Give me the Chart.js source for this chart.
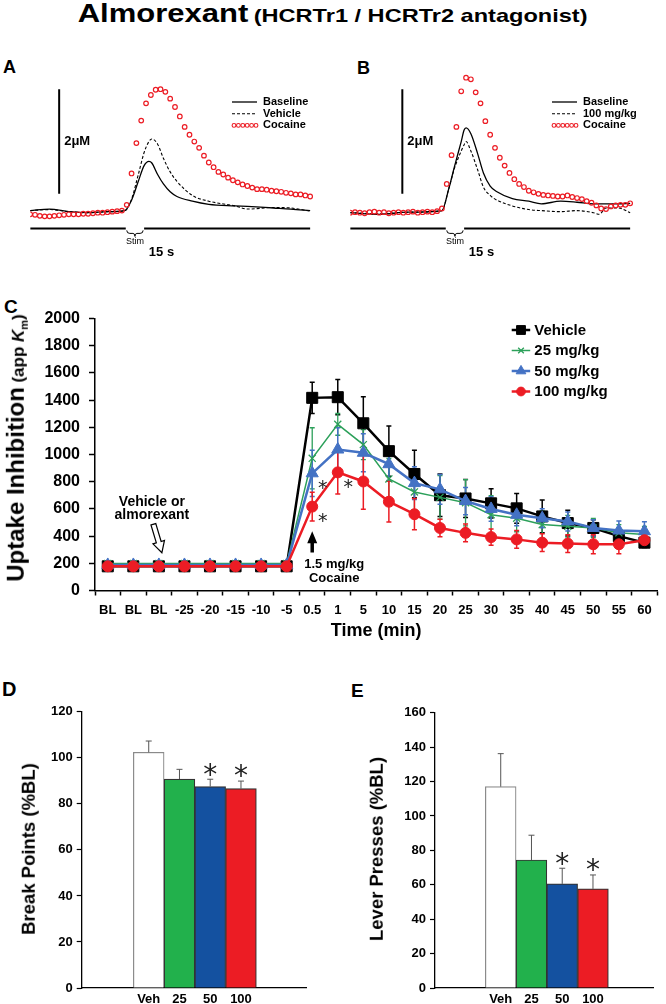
<!DOCTYPE html>
<html>
<head>
<meta charset="utf-8">
<script src="https://cdn.jsdelivr.net/npm/chart.js@4.4.1/dist/chart.umd.min.js"></script>
<style>
  body { margin: 0; background: #fff; }
  #page { position: relative; width: 666px; height: 1004px; overflow: hidden;
          font-family: 'Liberation Sans', Arial, sans-serif; font-weight: bold; color: #000; }
  canvas { position: absolute; }
  .lbl { position: absolute; white-space: nowrap; line-height: 1; }
  .rot { position: absolute; white-space: nowrap; line-height: 1;
         transform: translate(-50%, -50%) rotate(-90deg); }
</style>
</head>
<body>
<div id="page">
  <div class="lbl" style="left:0;width:666px;top:0.5px;text-align:center">
    <span style="display:inline-block;transform:scaleX(1.24)"><span style="font-size:25px">Almorexant</span> <span style="font-size:19px">(HCRTr1 / HCRTr2 antagonist)</span></span>
  </div>

  <div class="lbl" style="left:3px;top:58px;font-size:18px">A</div>
  <div class="lbl" style="left:357px;top:58.5px;font-size:18px">B</div>
  <div class="lbl" style="left:4px;top:296.5px;font-size:19px">C</div>
  <div class="lbl" style="left:2px;top:679px;font-size:20px">D</div>
  <div class="lbl" style="left:351px;top:680.5px;font-size:19px">E</div>

  <canvas id="chartA" width="300" height="204" style="left:25px;top:61px"></canvas>
  <canvas id="chartB" width="300" height="204" style="left:345px;top:61px"></canvas>
  <canvas id="chartC" width="666" height="345" style="left:0;top:300px"></canvas>
  <canvas id="chartD" width="330" height="304" style="left:0;top:700px"></canvas>
  <canvas id="chartE" width="336" height="304" style="left:330px;top:700px"></canvas>

  <div class="rot" style="left:17px;top:448px"><span style="font-size:24px">Uptake Inhibition</span> <span style="font-size:17px">(app <i>K</i><sub style="font-size:11px">m</sub>)</span></div>
  <div class="rot" style="left:29px;top:849px;font-size:18.5px">Break Points (%BL)</div>
  <div class="rot" style="left:377px;top:849px;font-size:18.5px">Lever Presses (%BL)</div>
</div>

<script>
// ---- panels A / B : voltammetry traces (uM vs s) ----
const tCoc = [0, 0.5, 1, 1.5, 2, 2.5, 3, 3.5, 4, 4.5, 5, 5.5, 6, 6.5, 7, 7.5, 8, 8.5, 9, 9.5,
  10, 10.5, 11, 11.5, 12, 12.5, 13, 13.5, 14, 14.5, 15, 15.5, 16, 16.5, 17, 17.5, 18, 18.5, 19, 19.5,
  20, 20.5, 21, 21.5, 22, 22.5, 23, 23.5, 24, 24.5, 25, 25.5, 26, 26.5, 27, 27.5, 28, 28.5, 29];

const tLineA = [0, 2, 4, 6, 8, 9.8, 10.5, 11.2, 11.8, 12.3, 12.6, 13.2, 13.8, 14.5, 15.2, 16.8, 18.5, 21.2, 22.5, 25.2, 27, 29];
const baseA = [0.04, 0.07, 0.02, 0, 0.02, 0.04, 0.24, 0.6, 0.9, 0.98, 0.95, 0.73, 0.55, 0.4, 0.31, 0.22, 0.16, 0.13, 0.12, 0.09, 0.07, 0.04];
const vehA = [0.04, 0.06, 0.02, 0, 0.02, 0.04, 0.26, 0.73, 1.15, 1.36, 1.41, 1.31, 1.04, 0.78, 0.6, 0.33, 0.22, 0.13, 0.07, 0.1, 0.09, 0.03];
const cocA = [-0.03, -0.04, -0.06, -0.07, -0.07, -0.06, -0.05, -0.04, -0.03, -0.03, -0.03, -0.02, -0.02, -0.01, 0, 0, 0.01, 0.02, 0.03, 0.04,
  0.15, 0.75, 1.33, 1.76, 2.09, 2.25, 2.35, 2.36, 2.31, 2.18, 2.02, 1.84, 1.64, 1.49, 1.36, 1.24, 1.09, 0.96, 0.87, 0.78,
  0.73, 0.67, 0.62, 0.58, 0.54, 0.51, 0.48, 0.45, 0.45, 0.44, 0.42, 0.41, 0.4, 0.38, 0.37, 0.35, 0.35, 0.33, 0.31];

const tLineB = [0, 3, 6, 9.5, 10.2, 10.8, 11.5, 11.8, 12.0, 12.5, 13.2, 13.8, 14.5, 15.2, 16.8, 18.5, 19.8, 21.8, 23.5, 25.2, 25.8, 26.5, 27.8, 29];
const baseB = [0, -0.03, 0.01, 0.04, 0.45, 0.88, 1.36, 1.58, 1.62, 1.51, 1.13, 0.76, 0.51, 0.4, 0.27, 0.22, 0.17, 0.22, 0.2, 0.17, 0.17, 0.17, 0.17, 0.18];
const doseB = [0, -0.02, 0.01, 0.04, 0.45, 0.85, 1.18, 1.3, 1.36, 1.18, 0.82, 0.49, 0.33, 0.24, 0.13, 0.06, 0.04, 0.02, 0.04, 0, -0.03, 0.09, 0.09, 0];
const cocB = [0, 0.01, 0, -0.01, 0.01, 0.02, 0, 0.01, -0.01, 0, 0.01, 0, 0.01, 0.02, 0, 0.01, 0.02, 0.01, 0.03, 0.08,
  0.55, 1.1, 1.64, 2.32, 2.58, 2.55, 2.3, 2.09, 1.75, 1.49, 1.24, 1.05, 0.9, 0.76, 0.64, 0.55, 0.49, 0.42, 0.39, 0.36,
  0.34, 0.33, 0.32, 0.31, 0.31, 0.33, 0.3, 0.28, 0.26, 0.22, 0.19, 0.14, 0.08, 0.07, 0.12, 0.14, 0.15, 0.15, 0.18];

const stim = [9.9, 11.8];     // stimulation window (s)
const scaleBarUM = 2;         // scale bar height (uM)

// ---- panel C : uptake inhibition time course ----
const timeLabels = ['BL', 'BL', 'BL', '-25', '-20', '-15', '-10', '-5', '0.5', '1', '5', '10', '15', '20', '25', '30', '35', '40', '45', '50', '55', '60'];
const vehicle = [178, 178, 178, 178, 178, 178, 178, 178, 1417, 1422, 1230, 1025, 857, 701, 677, 641, 604, 545, 496, 460, 400, 352];
const mg25 = [198, 198, 198, 198, 198, 198, 198, 198, 972, 1222, 1073, 821, 725, 685, 646, 557, 532, 485, 472, 460, 424, 412];
const mg50 = [188, 188, 188, 188, 188, 188, 188, 188, 862, 1037, 1013, 929, 790, 744, 658, 600, 557, 532, 508, 460, 441, 436];
const mg100 = [178, 178, 178, 178, 178, 178, 178, 178, 617, 869, 802, 653, 561, 460, 424, 393, 376, 352, 345, 340, 340, 370];
const errVeh = [12, 12, 12, 12, 12, 12, 12, 12, 115, 130, 195, 185, 175, 156, 140, 108, 109, 120, 95, 60, 45, 35];
const err25 = [10, 10, 10, 10, 10, 10, 10, 10, 225, 80, 110, 150, 130, 160, 170, 140, 100, 100, 80, 70, 60, 60];
const err50 = [10, 10, 10, 10, 10, 10, 10, 10, 170, 160, 140, 120, 120, 110, 100, 90, 80, 70, 70, 60, 70, 70];
const err100 = [10, 10, 10, 10, 10, 10, 10, 10, 105, 160, 205, 150, 115, 65, 65, 60, 65, 65, 65, 70, 70, 35];

// ---- panels D / E : self-administration ----
const groups = ['Veh', '25', '50', '100'];
const breakPts = [102.4, 90.8, 87.5, 86.6];
const breakErr = [4.9, 4.2, 3.2, 3.3];
const leverPr = [117.0, 74.4, 60.5, 57.6];
const leverErr = [19.2, 14.4, 9.1, 8.1];
const sigIdx = [2, 3];

const FONT = "'Liberation Sans', Arial, sans-serif";
const RED = '#ec1c24', GREEN = '#2ca05a', BLUE = '#4472c4';

Chart.defaults.font.family = FONT;
Chart.defaults.color = '#000';
Chart.defaults.animation = false;
Chart.defaults.responsive = false;
Chart.defaults.events = [];
Chart.defaults.plugins.legend.display = false;
Chart.defaults.plugins.tooltip.enabled = false;

const valOf = d => (d !== null && typeof d === 'object') ? d.y : d;

// error bars: 'both' drawn under the markers, 'up' drawn over the bars
function drawErrors(chart, mode) {
  const { ctx } = chart, ys = chart.scales.y;
  chart.data.datasets.forEach((ds, di) => {
    if (!ds.errors || (ds.errorMode || 'both') !== mode) return;
    const meta = chart.getDatasetMeta(di);
    ctx.save();
    ctx.lineWidth = ds.errorWidth || 1;
    meta.data.forEach((el, i) => {
      const v = valOf(ds.data[i]), e = ds.errors[i];
      ctx.strokeStyle = ds.errorColor || ds.borderColor;
      const top = ys.getPixelForValue(v + e);
      const bot = mode === 'up' ? ys.getPixelForValue(v) : ys.getPixelForValue(v - e);
      const cw = ds.capWidth || 3;
      ctx.beginPath();
      ctx.moveTo(el.x, bot); ctx.lineTo(el.x, top);
      ctx.moveTo(el.x - cw, top); ctx.lineTo(el.x + cw, top);
      if (mode === 'both') { ctx.moveTo(el.x - cw, bot); ctx.lineTo(el.x + cw, bot); }
      ctx.stroke();
    });
    ctx.restore();
  });
}

const errorBars = {
  id: 'errorBars',
  beforeDatasetsDraw(chart) { drawErrors(chart, 'both'); },
  afterDatasetsDraw(chart) { drawErrors(chart, 'up'); }
};

// significance asterisks
const stars = {
  id: 'stars',
  afterDatasetsDraw(chart) {
    const { ctx } = chart, ys = chart.scales.y;
    chart.data.datasets.forEach((ds, di) => {
      if (!ds.stars) return;
      const meta = chart.getDatasetMeta(di);
      const fs = ds.starSize || 20;
      ctx.save();
      ctx.font = fs + "px 'DejaVu Sans', sans-serif";
      ctx.fillStyle = '#222';
      ctx.textAlign = 'center';
      ctx.textBaseline = 'middle';
      ds.stars.forEach(i => {
        const el = meta.data[i];
        let x = el.x, y;
        if (ds.starGap !== undefined) {
          y = ys.getPixelForValue(valOf(ds.data[i]) + ds.errors[i]) - ds.starGap;
        } else {
          x += ds.starDx; y = el.y + ds.starDy;
        }
        ctx.fillText('*', x, y + 0.25 * fs);
      });
      ctx.restore();
    });
  }
};

Chart.register(errorBars, stars);

// ---------- A / B ----------
const traceDecor = {
  id: 'traceDecor',
  afterDraw(chart, args, o) {
    const { ctx } = chart, xs = chart.scales.x, ys = chart.scales.y;
    ctx.save();
    ctx.fillStyle = '#000'; ctx.strokeStyle = '#000';
    // scale bar label
    ctx.font = 'bold 13px ' + FONT;
    ctx.textAlign = 'left'; ctx.textBaseline = 'middle';
    ctx.fillText(scaleBarUM + 'μM', xs.getPixelForValue(o.barT) + 5, ys.getPixelForValue(o.barLow + scaleBarUM / 2));
    // stim brace under the gap of the time bar
    const xa = xs.getPixelForValue(stim[0]) + 1, xb = xs.getPixelForValue(stim[1]) - 1;
    const xm = (xa + xb) / 2, yb = ys.getPixelForValue(o.timeBarY) + 2;
    ctx.lineWidth = 1;
    ctx.beginPath();
    ctx.moveTo(xa, yb);
    ctx.quadraticCurveTo(xa, yb + 3, xa + 3, yb + 3);
    ctx.lineTo(xm - 2, yb + 3);
    ctx.quadraticCurveTo(xm, yb + 3, xm, yb + 6);
    ctx.quadraticCurveTo(xm, yb + 3, xm + 2, yb + 3);
    ctx.lineTo(xb - 3, yb + 3);
    ctx.quadraticCurveTo(xb, yb + 3, xb, yb);
    ctx.stroke();
    ctx.font = '9px ' + FONT;
    ctx.textAlign = 'center';
    ctx.fillText('Stim', xm, yb + 11);
    ctx.font = 'bold 13px ' + FONT;
    ctx.fillText('15 s', xs.getPixelForValue(o.secT), yb + 22);
    // legend
    const L = o.legend;
    chart.data.datasets.slice(0, 3).forEach((ds, i) => {
      const y = L.y + i * L.dy;
      ctx.save();
      if (ds.showLine === false) {
        ctx.strokeStyle = ds.pointBorderColor; ctx.lineWidth = 1.1;
        for (let k = 0; k < 6; k++) {
          ctx.beginPath(); ctx.arc(L.x + 2 + k * 4.4, y, 1.9, 0, Math.PI * 2); ctx.stroke();
        }
      } else {
        ctx.lineWidth = ds.borderWidth;
        ctx.setLineDash(ds.borderDash || []);
        ctx.beginPath(); ctx.moveTo(L.x, y); ctx.lineTo(L.x + L.w, y); ctx.stroke();
      }
      ctx.restore();
      ctx.font = 'bold 11px ' + FONT;
      ctx.textAlign = 'left';
      ctx.fillText(ds.label, L.x + L.w + 6, y);
    });
    ctx.restore();
  }
};

function traceChart(id, tLine, base, drug, coc, drugLabel, barT) {
  const pts = (ts, vs) => ts.map((t, i) => ({ x: t, y: vs[i] }));
  const timeBarY = -0.3, barLow = 0.36;
  return new Chart(document.getElementById(id), {
    type: 'line',
    data: {
      datasets: [
        { label: 'Baseline', data: pts(tLine, base), borderColor: '#000', borderWidth: 1.3,
          pointRadius: 0, cubicInterpolationMode: 'monotone', order: 1 },
        { label: drugLabel, data: pts(tLine, drug), borderColor: '#000', borderWidth: 1.1,
          borderDash: [3, 2], pointRadius: 0, cubicInterpolationMode: 'monotone', order: 2 },
        { label: 'Cocaine', data: pts(tCoc, coc), showLine: false, pointRadius: 2.3,
          pointBorderWidth: 1.2, pointBorderColor: RED, pointBackgroundColor: 'rgba(255,255,255,0)', order: 0 },
        { label: 'bar', data: [{ x: barT, y: barLow }, { x: barT, y: barLow + scaleBarUM }],
          borderColor: '#000', borderWidth: 2, pointRadius: 0, order: 3 },
        { label: 'time', data: [{ x: 0, y: timeBarY }, { x: stim[0], y: timeBarY }, { x: 10.8, y: null },
            { x: stim[1], y: timeBarY }, { x: 29, y: timeBarY }],
          borderColor: '#000', borderWidth: 2, pointRadius: 0, spanGaps: false, order: 4 }
      ]
    },
    options: {
      layout: { padding: 0 },
      scales: {
        x: { type: 'linear', display: false, min: 0, max: 30 },
        y: { display: false, min: -0.9, max: 2.8 }
      },
      plugins: {
        traceDecor: { barT: barT, barLow: barLow, timeBarY: timeBarY, secT: 13.6,
                      legend: { x: 207, y: 41, dy: 11.7, w: 25 } }
      }
    },
    plugins: [traceDecor]
  });
}

traceChart('chartA', tLineA, baseA, vehA, cocA, 'Vehicle', 3.0);
traceChart('chartB', tLineB, baseB, doseB, cocB, '100 mg/kg', 5.4);

// ---------- C ----------
function drawArrow(ctx, x0, y0, x1, y1, shaftW, headL, headW, hollow) {
  const len = Math.hypot(x1 - x0, y1 - y0), ux = (x1 - x0) / len, uy = (y1 - y0) / len;
  const nx = -uy, ny = ux, bx = x1 - ux * headL, by = y1 - uy * headL;
  ctx.beginPath();
  ctx.moveTo(x0 + nx * shaftW / 2, y0 + ny * shaftW / 2);
  ctx.lineTo(bx + nx * shaftW / 2, by + ny * shaftW / 2);
  ctx.lineTo(bx + nx * headW / 2, by + ny * headW / 2);
  ctx.lineTo(x1, y1);
  ctx.lineTo(bx - nx * headW / 2, by - ny * headW / 2);
  ctx.lineTo(bx - nx * shaftW / 2, by - ny * shaftW / 2);
  ctx.lineTo(x0 - nx * shaftW / 2, y0 - ny * shaftW / 2);
  ctx.closePath();
  if (hollow) {
    ctx.fillStyle = '#fff'; ctx.fill();
    ctx.lineWidth = 1.2; ctx.strokeStyle = '#000'; ctx.stroke();
  } else {
    ctx.fillStyle = '#000'; ctx.fill();
  }
}

const cDecor = {
  id: 'cDecor',
  afterDraw(chart) {
    const { ctx } = chart, xs = chart.scales.x, ys = chart.scales.y;
    ctx.save();
    // drug pretreatment arrow + text
    const hx = xs.getPixelForValue(2);
    drawArrow(ctx, hx - 5.5, ys.getPixelForValue(487), hx + 3, ys.getPixelForValue(278), 5, 11, 12, true);
    ctx.fillStyle = '#000';
    ctx.font = 'bold 14px ' + FONT;
    ctx.textAlign = 'center'; ctx.textBaseline = 'middle';
    ctx.fillText('Vehicle or', hx - 7, ys.getPixelForValue(653));
    ctx.fillText('almorexant', hx - 7, ys.getPixelForValue(552));
    // cocaine arrow + text
    const cx = xs.getPixelForValue(8);
    drawArrow(ctx, cx, ys.getPixelForValue(280), cx, ys.getPixelForValue(436), 3.5, 12, 10, false);
    ctx.fillStyle = '#000';
    ctx.font = 'bold 13px ' + FONT;
    ctx.fillText('1.5 mg/kg', cx + 22, ys.getPixelForValue(195));
    ctx.fillText('Cocaine', cx + 22, ys.getPixelForValue(88));
    // legend
    const lx = 511.7, ly = 30, dy = 20.5;
    chart.data.datasets.forEach((ds, i) => {
      const y = ly + i * dy;
      ctx.strokeStyle = ds.borderColor; ctx.fillStyle = ds.pointBackgroundColor || ds.borderColor;
      ctx.lineWidth = ds.borderWidth;
      ctx.beginPath(); ctx.moveTo(lx, y); ctx.lineTo(lx + 18.5, y); ctx.stroke();
      ctx.lineWidth = ds.pointBorderWidth || 1;
      Chart.helpers.drawPoint(ctx, { pointStyle: ds.pointStyle, radius: ds.pointRadius * 0.8,
        borderWidth: ds.pointBorderWidth || 1, rotation: 0 }, lx + 9.3, y);
      ctx.fillStyle = '#000';
      ctx.font = 'bold 15px ' + FONT;
      ctx.textAlign = 'left';
      ctx.fillText(ds.label, lx + 22.6, y + 0.5);
    });
    ctx.restore();
  }
};

new Chart(document.getElementById('chartC'), {
  type: 'line',
  data: {
    labels: timeLabels,
    datasets: [
      { label: 'Vehicle', data: vehicle, errors: errVeh, errorWidth: 1.5, capWidth: 2.5,
        borderColor: '#000', pointBackgroundColor: '#000', pointBorderColor: '#000', borderWidth: 2.5,
        pointStyle: 'rect', pointRadius: 7.8, pointBorderWidth: 1, order: 3 },
      { label: '25 mg/kg', data: mg25, errors: err25, errorWidth: 1.3, capWidth: 2.5,
        borderColor: GREEN, pointBackgroundColor: GREEN, pointBorderColor: GREEN, borderWidth: 1.5,
        pointStyle: 'crossRot', pointRadius: 5, pointBorderWidth: 1.3, order: 2 },
      { label: '50 mg/kg', data: mg50, errors: err50, errorWidth: 1.5, capWidth: 2.5,
        borderColor: BLUE, pointBackgroundColor: BLUE, pointBorderColor: BLUE, borderWidth: 2.5,
        pointStyle: 'triangle', pointRadius: 7, pointBorderWidth: 1, order: 1,
        stars: [8], starDx: 10.5, starDy: 11, starSize: 19 },
      { label: '100 mg/kg', data: mg100, errors: err100, errorWidth: 1.5, capWidth: 2.5,
        borderColor: RED, pointBackgroundColor: RED, pointBorderColor: RED, borderWidth: 2.5,
        pointStyle: 'circle', pointRadius: 5.5, pointBorderWidth: 1, order: 0,
        stars: [8, 9], starDx: 10.5, starDy: 11, starSize: 19 }
    ]
  },
  options: {
    layout: { padding: { left: 40, top: 13.3, right: 3, bottom: 0 } },
    elements: { line: { tension: 0 } },
    scales: {
      x: {
        type: 'category', offset: true,
        grid: { offset: true, drawOnChartArea: false, tickLength: 5, tickColor: '#000', tickWidth: 1.5 },
        border: { color: '#000', width: 1.5 },
        ticks: { autoSkip: false, maxRotation: 0, padding: 7, color: '#000', font: { size: 13, weight: 'bold' } },
        title: { display: true, text: 'Time (min)', color: '#000', font: { size: 18, weight: 'bold' },
                 padding: { top: 0, bottom: 3 } },
        afterFit: s => { s.height = 54.5; }
      },
      y: {
        min: 0, max: 2000,
        ticks: { stepSize: 200, padding: 9, color: '#000', font: { size: 16, weight: 'bold' }, callback: v => String(v) },
        grid: { drawOnChartArea: false, tickLength: 6, tickColor: '#000', tickWidth: 1.5 },
        border: { color: '#000', width: 1.5 },
        afterFit: s => { s.width = 55; }
      }
    }
  },
  plugins: [cDecor]
});

// ---------- D / E ----------
function barChart(id, vals, errs, yMax, pad, yWidth, xMin, xMax) {
  return new Chart(document.getElementById(id), {
    type: 'bar',
    data: {
      datasets: [{
        data: vals.map((v, i) => ({ x: i + 1, y: v })),
        errors: errs, errorMode: 'up', errorWidth: 1, capWidth: 3, errorColor: '#555',
        stars: sigIdx, starGap: 10, starSize: 28,
        backgroundColor: ['#ffffff', '#22b14c', '#1451a0', RED],
        borderColor: ['#8a8a8a', '#333', '#333', '#333'],
        borderWidth: 1.2, barPercentage: 1, categoryPercentage: 1
      }]
    },
    options: {
      layout: { padding: pad },
      scales: {
        x: {
          type: 'linear', min: xMin, max: xMax,
          afterBuildTicks: s => { s.ticks = groups.map((g, i) => ({ value: i + 1 })); },
          ticks: { autoSkip: false, maxRotation: 0, padding: 4, color: '#000',
                   font: { size: 13, weight: 'bold' }, callback: v => groups[v - 1] ?? '' },
          grid: { display: false, drawTicks: false },
          border: { color: '#000', width: 1.3 },
          afterFit: s => { s.height = 16; }
        },
        y: {
          min: 0, max: yMax,
          ticks: { stepSize: 20, padding: 4, color: '#000', font: { size: 13, weight: 'bold' } },
          grid: { drawOnChartArea: false, tickLength: 5, tickColor: '#000', tickWidth: 1.2 },
          border: { color: '#000', width: 1.3 },
          afterFit: s => { s.width = yWidth; }
        }
      }
    }
  });
}

barChart('chartD', breakPts, breakErr, 120, { left: 50, top: 11.7, right: 24, bottom: 0 }, 31.7, -0.268, 5.203);
barChart('chartE', leverPr, leverErr, 160, { left: 75, top: 12.7, right: 13, bottom: 0 }, 30, -0.251, 5.066);
</script>
</body>
</html>
